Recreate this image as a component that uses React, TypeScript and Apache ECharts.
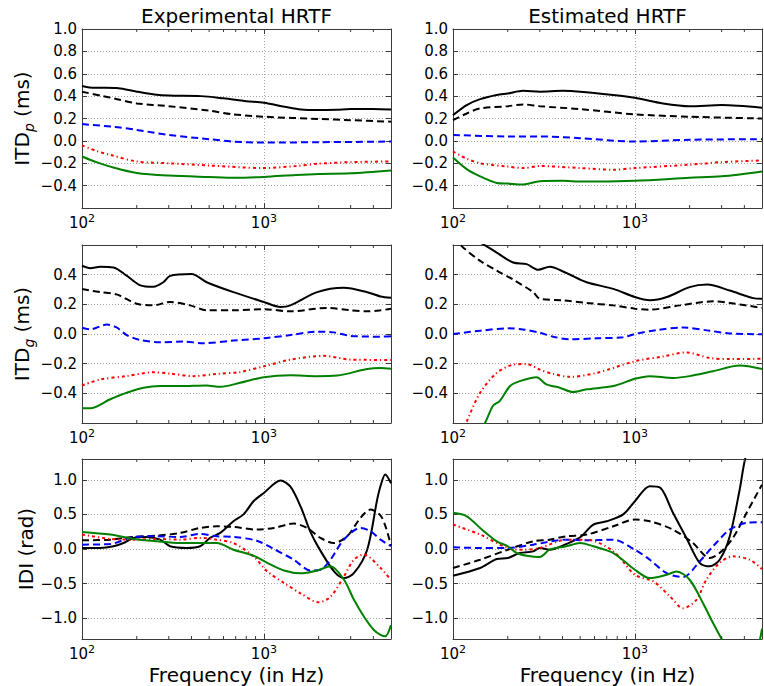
import React, { useEffect, useRef } from 'react';
import * as echarts from 'echarts';

// ---------- data ----------
const xMinFreq = 100;
const xMaxFreq = 5000;
const minorTickFreqs = [200, 300, 400, 500, 600, 700, 800, 900, 2000, 3000, 4000];
const columnTitles = ['Experimental HRTF', 'Estimated HRTF'];
const xAxisTitle = 'Frequency (in Hz)';

// Row 1: ITD_p (ms) – Experimental
const expItdpSolid = [[100,0.49],[110,0.478],[125,0.475],[155,0.472],[180,0.455],[200,0.44],[250,0.415],[300,0.405],[450,0.40],[600,0.38],[800,0.355],[1000,0.34],[1300,0.305],[1600,0.28],[2000,0.275],[2500,0.278],[3000,0.285],[4000,0.285],[5000,0.28]];
const expItdpDashed = [[100,0.44],[130,0.40],[150,0.38],[200,0.335],[300,0.31],[500,0.27],[680,0.237],[1000,0.216],[2000,0.196],[3000,0.185],[5000,0.172]];
const expItdpBlue = [[100,0.15],[150,0.125],[200,0.098],[300,0.053],[500,0.015],[680,-0.006],[1000,-0.015],[2000,-0.012],[5000,-0.006]];
const expItdpRed = [[100,-0.04],[120,-0.09],[142,-0.124],[200,-0.184],[300,-0.2],[500,-0.22],[1000,-0.243],[1500,-0.225],[2000,-0.204],[3000,-0.19],[5000,-0.184]];
const expItdpGreen = [[100,-0.14],[120,-0.19],[150,-0.24],[200,-0.287],[300,-0.31],[500,-0.323],[700,-0.33],[1000,-0.322],[1500,-0.305],[2000,-0.296],[3000,-0.29],[5000,-0.265]];

// Row 1: ITD_p (ms) – Estimated
const estItdpSolid = [[100,0.23],[119,0.32],[141,0.373],[174,0.41],[200,0.424],[243,0.447],[300,0.44],[400,0.447],[500,0.44],[760,0.41],[1000,0.385],[1430,0.335],[2000,0.31],[3000,0.32],[5000,0.296]];
const estItdpDashed = [[100,0.185],[119,0.245],[141,0.29],[200,0.31],[243,0.326],[300,0.31],[500,0.284],[1000,0.237],[2000,0.216],[5000,0.2]];
const estItdpBlue = [[100,0.053],[200,0.04],[300,0.04],[500,0.024],[1000,-0.006],[2000,0.01],[5000,0.015]];
const estItdpRed = [[100,-0.095],[119,-0.16],[141,-0.2],[200,-0.23],[243,-0.243],[300,-0.225],[500,-0.243],[760,-0.258],[1000,-0.243],[2000,-0.213],[3000,-0.19],[5000,-0.175]];
const estItdpGreen = [[100,-0.148],[119,-0.252],[141,-0.317],[174,-0.376],[200,-0.382],[243,-0.39],[300,-0.36],[400,-0.356],[500,-0.364],[1000,-0.356],[2000,-0.33],[3000,-0.317],[5000,-0.273]];

// Row 2: ITD_g (ms) – Experimental
const expItdgSolid = [[100,0.46],[111,0.444],[126,0.453],[149,0.449],[176,0.393],[208,0.33],[247,0.318],[280,0.349],[305,0.392],[400,0.404],[485,0.349],[680,0.282],[1000,0.216],[1235,0.182],[1400,0.193],[1963,0.282],[2750,0.311],[3700,0.282],[4380,0.253],[5000,0.245]];
const expItdgDashed = [[100,0.304],[126,0.282],[155,0.267],[200,0.204],[247,0.193],[305,0.216],[393,0.193],[485,0.16],[680,0.16],[1000,0.167],[1400,0.153],[2230,0.176],[3000,0.16],[3700,0.153],[4380,0.16],[5000,0.17]];
const expItdgBlue = [[100,0.042],[111,0.031],[137,0.064],[155,0.044],[176,-0.007],[208,-0.04],[269,-0.056],[361,-0.051],[465,-0.062],[680,-0.044],[1000,-0.029],[1400,-0.007],[1963,0.016],[2424,0.011],[3000,-0.013],[4380,-0.018],[5000,-0.015]];
const expItdgRed = [[100,-0.347],[126,-0.307],[176,-0.284],[247,-0.258],[305,-0.267],[410,-0.284],[551,-0.269],[741,-0.256],[1000,-0.218],[1400,-0.173],[2135,-0.147],[3000,-0.173],[5000,-0.175]];
const expItdgGreen = [[100,-0.5],[111,-0.5],[143,-0.44],[176,-0.396],[218,-0.362],[269,-0.351],[346,-0.351],[485,-0.347],[575,-0.356],[741,-0.329],[1000,-0.291],[1400,-0.278],[1963,-0.284],[2529,-0.28],[3700,-0.236],[4380,-0.229],[5000,-0.235]];

// Row 2: ITD_g (ms) – Estimated
const estItdgSolid = [[100,0.78],[120,0.68],[140,0.62],[150,0.598],[174,0.549],[214,0.482],[254,0.471],[294,0.433],[340,0.453],[420,0.411],[543,0.349],[762,0.304],[1000,0.249],[1208,0.227],[1500,0.249],[2000,0.316],[2500,0.333],[3325,0.293],[4470,0.242],[5000,0.238]];
const estItdgDashed = [[100,0.65],[114,0.582],[141,0.493],[174,0.427],[214,0.367],[276,0.282],[300,0.238],[403,0.227],[543,0.209],[762,0.193],[1000,0.171],[1208,0.164],[1770,0.193],[2690,0.22],[3325,0.209],[5000,0.176]];
const estItdgBlue = [[100,0],[141,0.022],[200,0.038],[243,0.031],[300,0.009],[355,-0.018],[438,-0.036],[617,-0.029],[863,-0.022],[1000,0],[1321,0.027],[1840,0.044],[2575,0.022],[3325,0.004],[5000,-0.002]];
const estItdgRed = [[100,-0.85],[110,-0.7],[119,-0.59],[141,-0.396],[174,-0.262],[214,-0.207],[254,-0.202],[300,-0.24],[355,-0.269],[438,-0.289],[617,-0.262],[1000,-0.184],[1435,-0.151],[1920,-0.124],[2575,-0.162],[3325,-0.169],[5000,-0.167]];
const estItdgGreen = [[100,-0.95],[130,-0.72],[150,-0.6],[166,-0.484],[181,-0.451],[206,-0.351],[233,-0.318],[288,-0.291],[326,-0.34],[386,-0.362],[457,-0.391],[543,-0.373],[762,-0.351],[1000,-0.302],[1208,-0.284],[1622,-0.296],[2000,-0.284],[2690,-0.251],[3770,-0.213],[5000,-0.236]];

// Row 3: IDI (rad) – Experimental
const expIdiSolid = [[100,0.015],[126,0.015],[149,0.04],[169,0.087],[192,0.16],[227,0.174],[269,0.135],[305,0.04],[377,0.015],[446,0.04],[506,0.16],[575,0.232],[680,0.4],[773,0.5],[877,0.69],[1000,0.81],[1235,0.99],[1400,0.9],[1600,0.6],[1800,0.25],[2000,0.02],[2424,-0.32],[2752,-0.42],[3124,-0.35],[3699,-0.01],[4198,0.715],[4380,0.91],[4650,1.077],[5000,0.95]];
const expIdiDashed = [[100,0.126],[143,0.135],[192,0.174],[258,0.193],[346,0.232],[446,0.304],[551,0.328],[680,0.319],[915,0.28],[1135,0.304],[1460,0.367],[1729,0.304],[2048,0.16],[2424,0.087],[2871,0.184],[3400,0.45],[3858,0.57],[4380,0.483],[4700,0.3],[5000,0.05]];
const expIdiBlue = [[100,0.063],[143,0.072],[192,0.174],[258,0.184],[346,0.174],[446,0.217],[551,0.184],[680,0.174],[915,0.12],[1135,0],[1460,-0.155],[1803,-0.31],[2048,-0.3],[2324,-0.155],[2752,0.135],[3400,0.304],[3858,0.256],[4380,0.135],[5000,0.04]];
const expIdiRed = [[100,0.21],[143,0.145],[192,0.135],[258,0.145],[346,0.135],[446,0.16],[551,0.135],[680,0.087],[877,-0.106],[1043,-0.324],[1289,-0.49],[1589,-0.64],[2000,-0.77],[2324,-0.69],[2752,-0.4],[3124,-0.155],[3546,-0.08],[4380,-0.275],[5000,-0.45]];
const expIdiGreen = [[100,0.246],[143,0.208],[192,0.145],[258,0.111],[346,0.087],[446,0.087],[551,0.087],[680,-0.01],[877,-0.097],[1043,-0.2],[1289,-0.31],[1589,-0.35],[1963,-0.31],[2324,-0.25],[2752,-0.44],[3124,-0.73],[3546,-0.976],[4025,-1.17],[4380,-1.24],[4650,-1.26],[5000,-1.1]];

// Row 3: IDI (rad) – Estimated
const estIdiSolid = [[100,-0.386],[141,-0.275],[174,-0.145],[200,-0.13],[233,-0.058],[276,-0.034],[300,0.015],[340,-0.01],[420,0.072],[500,0.169],[591,0.353],[700,0.4],[863,0.5],[1000,0.69],[1208,0.908],[1380,0.884],[1622,0.52],[1920,0.16],[2270,-0.2],[2575,-0.25],[2925,-0.155],[3325,0.184],[3770,0.86],[4030,1.29],[4500,1.7],[5000,2.0]];
const estIdiDashed = [[100,-0.275],[141,-0.155],[200,-0.01],[276,0.111],[340,0.135],[420,0.184],[543,0.208],[762,0.328],[1000,0.425],[1208,0.4],[1622,0.28],[2085,0.087],[2575,-0.13],[2925,-0.058],[3460,0.16],[4110,0.52],[5000,0.93]];
const estIdiBlue = [[100,0.024],[141,0.015],[200,0.015],[276,0.063],[420,0.135],[543,0.126],[762,0.135],[1000,-0.01],[1208,-0.155],[1496,-0.35],[1840,-0.406],[2270,-0.18],[2690,0.039],[3325,0.28],[4110,0.377],[5000,0.386]];
const estIdiRed = [[100,0.353],[141,0.208],[200,0.015],[243,-0.01],[300,0.015],[420,0.135],[543,0.135],[762,-0.034],[1000,-0.372],[1266,-0.469],[1560,-0.686],[1840,-0.855],[2180,-0.734],[2470,-0.444],[2925,-0.2],[3460,-0.106],[4280,-0.155],[5000,-0.29]];
const estIdiGreen = [[100,0.522],[119,0.473],[141,0.304],[174,0.111],[200,0.039],[224,-0.058],[254,-0.097],[300,-0.116],[340,-0.01],[420,0.039],[500,0.087],[591,0.039],[762,-0.058],[1000,-0.3],[1208,-0.42],[1496,-0.372],[1695,-0.324],[2000,-0.444],[2370,-0.783],[2690,-1.07],[3000,-1.3],[3500,-1.6],[4200,-1.6],[4700,-1.45],[5000,-1.15]];

// ---------- layout / style ----------
const FONT = 'DejaVu Sans';
const FRAME = '#3a3a3a';
const GRIDLINE = '#a8a8a8';

const rows = [
  { top: 29, height: 179, min: -0.6, max: 1.0, interval: 0.2, showMax: true, label: 'p' },
  { top: 245, height: 178, min: -0.6, max: 0.6, interval: 0.2, showMax: false, label: 'g' },
  { top: 459, height: 180, min: -1.3, max: 1.3, interval: undefined as number | undefined, showMax: false, label: 'IDI' },
];
const cols = [{ left: 82 }, { left: 453 }];
const plotWidth = 309;

const panelData = [
  [expItdpSolid, expItdpDashed, expItdpBlue, expItdpRed, expItdpGreen],
  [estItdpSolid, estItdpDashed, estItdpBlue, estItdpRed, estItdpGreen],
  [expItdgSolid, expItdgDashed, expItdgBlue, expItdgRed, expItdgGreen],
  [estItdgSolid, estItdgDashed, estItdgBlue, estItdgRed, estItdgGreen],
  [expIdiSolid, expIdiDashed, expIdiBlue, expIdiRed, expIdiGreen],
  [estIdiSolid, estIdiDashed, estIdiBlue, estIdiRed, estIdiGreen],
];

const lineStyles: any[] = [
  { color: '#000000', type: 'solid' },
  { color: '#000000', type: [7, 4] },
  { color: '#0000ff', type: [7, 4] },
  { color: '#ff0000', type: [3, 3, 1.2, 3] },
  { color: '#008000', type: 'solid' },
];

const fmtY = (v: number) => {
  const r = Math.round(v * 10) / 10;
  if (Math.abs(r) < 1e-9) return '0.0';
  return r < 0 ? '\u2212' + Math.abs(r).toFixed(1) : r.toFixed(1);
};
const fmtX = (v: number) => {
  if (Math.abs(v - 100) < 1e-6) return '{b|10}{s|2}';
  if (Math.abs(v - 1000) < 1e-6) return '{b|10}{s|3}';
  return '';
};

function buildOption() {
  const grid: any[] = [];
  const xAxis: any[] = [];
  const yAxis: any[] = [];
  const series: any[] = [];
  const graphic: any[] = [];

  rows.forEach((row, ri) => {
    cols.forEach((col, ci) => {
      const p = ri * 2 + ci;
      grid.push({ left: col.left, top: row.top, width: plotWidth, height: row.height, containLabel: false });
      const axisLine = { show: true, onZero: false, lineStyle: { color: FRAME, width: 1 } };
      xAxis.push({
        type: 'log', logBase: 10, gridIndex: p, position: 'bottom', min: xMinFreq, max: xMaxFreq,
        axisLine, axisTick: { show: true, inside: true, length: 5, lineStyle: { color: FRAME } },
        axisLabel: {
          show: true, formatter: fmtX, color: '#000', margin: 5, showMaxLabel: false,
          rich: {
            b: { fontFamily: FONT, fontSize: 15, lineHeight: 20, color: '#000' },
            s: { fontFamily: FONT, fontSize: 11, lineHeight: 11, verticalAlign: 'top', color: '#000' },
          },
        },
        splitLine: { show: true, lineStyle: { color: GRIDLINE, type: [1, 2], width: 1 } },
        minorTick: { show: false }, minorSplitLine: { show: false },
      });
      xAxis.push({
        type: 'log', logBase: 10, gridIndex: p, position: 'top', min: xMinFreq, max: xMaxFreq,
        axisLine, axisTick: { show: true, inside: true, length: 5, lineStyle: { color: FRAME } },
        axisLabel: { show: false }, splitLine: { show: false },
      });
      const yBase: any = { type: 'value', gridIndex: p, min: row.min, max: row.max };
      if (row.interval !== undefined) yBase.interval = row.interval;
      else yBase.splitNumber = 5;
      yAxis.push({
        ...yBase, position: 'left', axisLine,
        axisTick: { show: true, inside: true, length: 5, lineStyle: { color: FRAME } },
        axisLabel: { show: true, formatter: fmtY, fontFamily: FONT, fontSize: 15, color: '#000', margin: 5, showMinLabel: false, showMaxLabel: row.showMax },
        splitLine: { show: true, lineStyle: { color: GRIDLINE, type: [1, 2], width: 1 } },
      });
      yAxis.push({
        ...yBase, position: 'right', axisLine,
        axisTick: { show: true, inside: true, length: 5, lineStyle: { color: FRAME } },
        axisLabel: { show: false }, splitLine: { show: false },
      });

      panelData[p].forEach((d, si) => {
        series.push({
          type: 'line', xAxisIndex: 2 * p, yAxisIndex: 2 * p, data: d,
          showSymbol: false, symbol: 'none', smooth: 0.3, clip: true, silent: true,
          lineStyle: { color: lineStyles[si].color, type: lineStyles[si].type, width: 2, cap: 'butt' },
          z: 3 + si,
        });
      });

      // minor log ticks (2..9 × decade) at bottom and top
      series.push({
        type: 'custom', xAxisIndex: 2 * p, yAxisIndex: 2 * p, silent: true, clip: false, z: 10,
        data: minorTickFreqs.map((f) => [f, 0]),
        encode: { x: 0, y: 1 },
        renderItem: (params: any, api: any) => {
          const cs = params.coordSys;
          const x = api.coord([api.value(0), 0])[0];
          const yb = cs.y + cs.height;
          const yt = cs.y;
          return {
            type: 'group',
            children: [
              { type: 'line', shape: { x1: x, y1: yb, x2: x, y2: yb - 3 }, style: { stroke: FRAME, lineWidth: 1 } },
              { type: 'line', shape: { x1: x, y1: yt, x2: x, y2: yt + 3 }, style: { stroke: FRAME, lineWidth: 1 } },
            ],
          };
        },
      });
    });

    // y-axis title
    const cy = row.top + row.height / 2;
    if (row.label === 'IDI') {
      graphic.push({
        type: 'text', x: 26, y: cy, rotation: Math.PI / 2,
        style: { text: 'IDI (rad)', fontFamily: FONT, fontSize: 20, fill: '#000', align: 'center', verticalAlign: 'middle' },
      });
    } else {
      graphic.push({
        type: 'text', x: 22, y: cy, rotation: Math.PI / 2,
        style: {
          text: '{m|ITD}{s|' + row.label + '}{m| (ms)}',
          fontFamily: FONT, fill: '#000', align: 'center', verticalAlign: 'middle',
          rich: {
            m: { fontFamily: FONT, fontSize: 20, lineHeight: 28, fill: '#000' },
            s: { fontFamily: FONT, fontSize: 14, fontStyle: 'italic', lineHeight: 14, verticalAlign: 'bottom', fill: '#000' },
          },
        },
      });
    }
  });

  cols.forEach((col, ci) => {
    const cx = col.left + plotWidth / 2;
    graphic.push({
      type: 'text', x: cx, y: 16, style: { text: columnTitles[ci], fontFamily: FONT, fontSize: 20, fill: '#000', align: 'center', verticalAlign: 'middle' },
    });
    graphic.push({
      type: 'text', x: cx, y: 675, style: { text: xAxisTitle, fontFamily: FONT, fontSize: 20, fill: '#000', align: 'center', verticalAlign: 'middle' },
    });
  });

  return { animation: false, backgroundColor: '#ffffff', grid, xAxis, yAxis, series, graphic };
}

export default function App() {
  const ref = useRef<HTMLDivElement>(null);
  useEffect(() => {
    if (!ref.current) return;
    const chart = echarts.init(ref.current, undefined, { renderer: 'svg' });
    chart.setOption(buildOption() as any);
    return () => chart.dispose();
  }, []);
  return (
    <div
      ref={ref}
      style={{ position: 'fixed', left: 0, top: 0, width: 764, height: 686, background: '#ffffff' }}
    />
  );
}
